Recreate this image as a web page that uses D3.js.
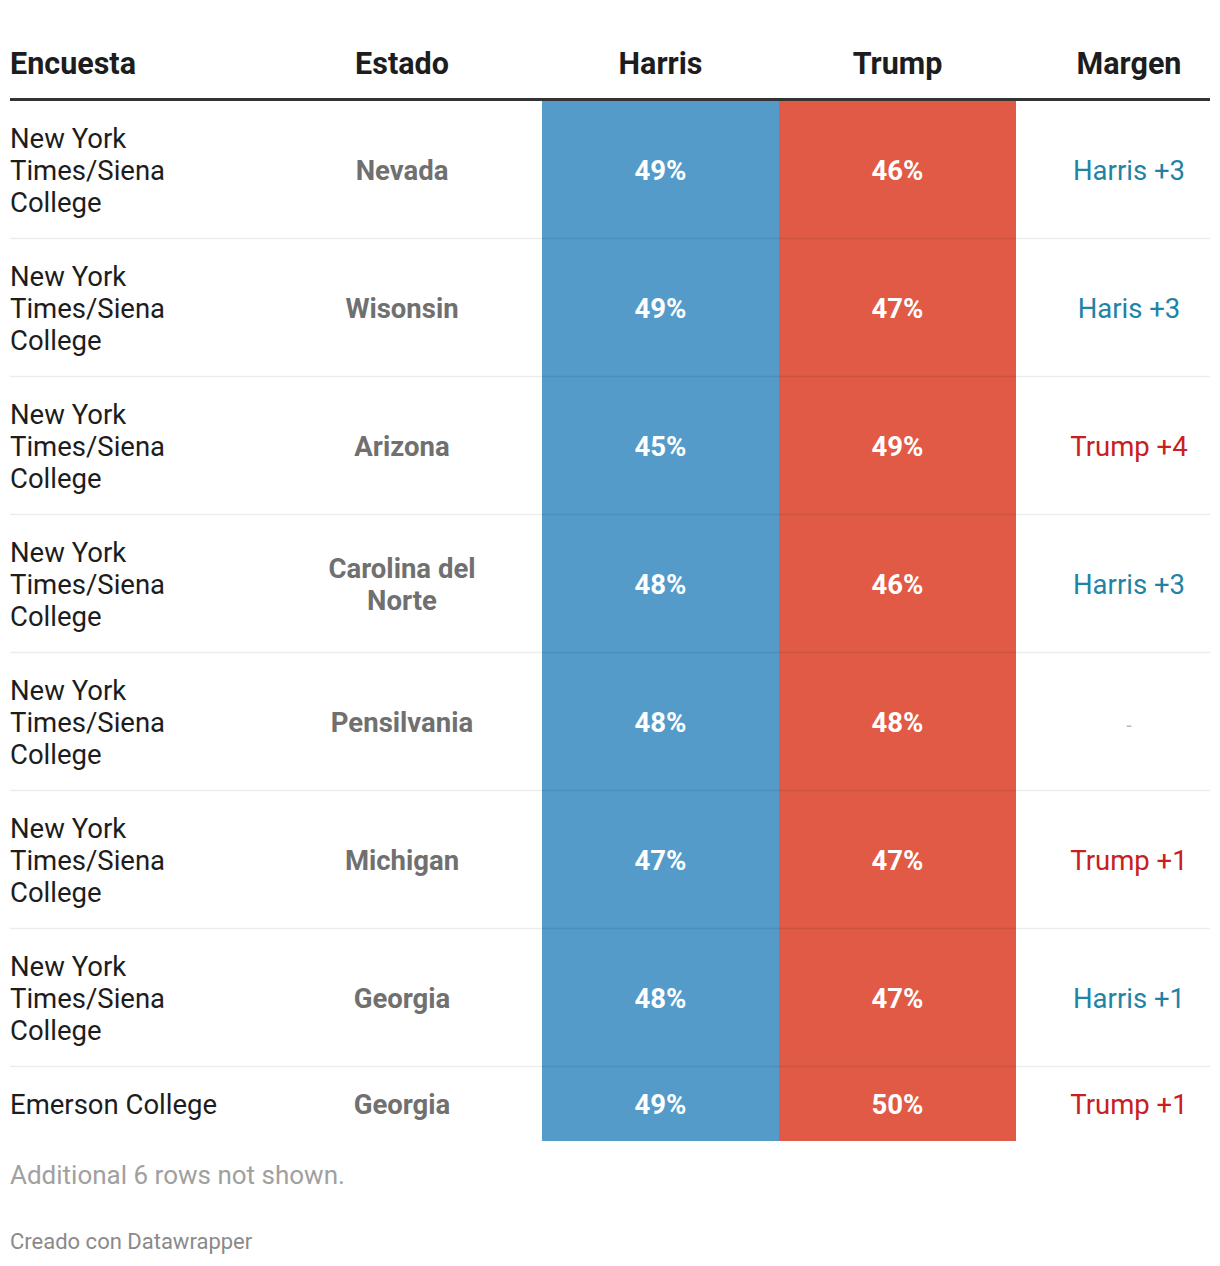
<!DOCTYPE html>
<html>
<head>
<meta charset="utf-8">
<script src="https://cdn.jsdelivr.net/npm/d3@7"></script>
<style>
  html, body { margin: 0; padding: 0; background: #fff; }
  svg { display: block; font-family: Roboto, "Noto Sans", sans-serif; }
</style>
</head>
<body>
<script>
// ---- data ----
const headers = ["Encuesta", "Estado", "Harris", "Trump", "Margen"];
const polls = [
  "New York Times/Siena College", "New York Times/Siena College",
  "New York Times/Siena College", "New York Times/Siena College",
  "New York Times/Siena College", "New York Times/Siena College",
  "New York Times/Siena College", "Emerson College"
];
const states = ["Nevada", "Wisonsin", "Arizona", "Carolina del Norte", "Pensilvania", "Michigan", "Georgia", "Georgia"];
const harris = [49, 49, 45, 48, 48, 47, 48, 49];
const trump = [46, 47, 49, 46, 48, 47, 47, 50];
const margins = ["Harris +3", "Haris +3", "Trump +4", "Harris +3", "-", "Trump +1", "Harris +1", "Trump +1"];
const note = "Additional 6 rows not shown.";
const credit = "Creado con Datawrapper";

// ---- layout ----
const W = 1220, H = 1266;
const left = 10, right = 1210;
const headerRule = 99.5;
const tableTop = 101;
const lineH = 32, padV = 21;
const fontSize = 27.5;

const svg = d3.select("body").append("svg").attr("width", W).attr("height", H);

// column bands
const colEdges = { Encuesta: [10, 262], Estado: [262, 542], Harris: [542, 779], Trump: [779, 1016], Margen: [1048, 1210] };
const colX = d3.scaleOrdinal().domain(headers).range(headers.map(h => h === "Encuesta" ? colEdges[h][0] : (colEdges[h][0] + colEdges[h][1]) / 2));
const colors = d3.scaleOrdinal().domain(["Harris", "Trump"]).range(["#549bc9", "#e15a46"]);
const marginColor = m => m.startsWith("Trump") ? "#c8201e" : (m.startsWith("Har") ? "#1f83a6" : "#bbbbbb");

// text measurement for wrapping
const meas = svg.append("text").attr("font-size", fontSize).attr("visibility", "hidden");
function wrap(str, maxW, weight) {
  meas.attr("font-weight", weight);
  const words = str.split(" ");
  const lines = [];
  let cur = "";
  for (const w of words) {
    const t = cur ? cur + " " + w : w;
    meas.text(t);
    if (meas.node().getComputedTextLength() > maxW && cur) { lines.push(cur); cur = w; }
    else cur = t;
  }
  if (cur) lines.push(cur);
  return lines;
}

const rows = polls.map((p, i) => {
  const pl = wrap(p, 230, 400);
  const sl = wrap(states[i], 195, 700);
  return { poll: pl, state: sl, harris: harris[i], trump: trump[i], margin: margins[i], n: Math.max(pl.length, sl.length) };
});
meas.remove();

let y0 = tableTop;
rows.forEach(r => { r.y = y0; r.h = r.n * lineH + 2 * padV; y0 += r.h; });
const tableBottom = y0;

const yScale = d3.scaleLinear().domain([0, 1]).range([tableTop, tableBottom]);

// colored columns
["Harris", "Trump"].forEach(k => {
  svg.append("rect")
    .attr("x", colEdges[k][0]).attr("width", colEdges[k][1] - colEdges[k][0])
    .attr("y", yScale(0)).attr("height", yScale(1) - yScale(0))
    .attr("fill", colors(k));
});

// header
svg.selectAll("text.hdr").data(headers).join("text")
  .attr("class", "hdr")
  .attr("x", d => colX(d))
  .attr("y", 74)
  .attr("text-anchor", d => d === "Encuesta" ? "start" : "middle")
  .attr("font-size", 30.5).attr("font-weight", 700).attr("fill", "#1d1d1d")
  .text(d => d);

svg.append("line").attr("x1", left).attr("x2", right).attr("y1", headerRule).attr("y2", headerRule)
  .attr("stroke", "#333").attr("stroke-width", 3);

// row separators
svg.selectAll("line.sep").data(rows.slice(1)).join("line")
  .attr("class", "sep")
  .attr("x1", left).attr("x2", right)
  .attr("y1", d => d.y - 0.5).attr("y2", d => d.y - 0.5)
  .attr("stroke", "rgba(0,0,0,0.075)").attr("stroke-width", 1.5);

const g = svg.selectAll("g.row").data(rows).join("g").attr("class", "row");

function multiline(sel, getLines, x, anchor, weight, fill) {
  sel.append("text")
    .attr("x", x).attr("text-anchor", anchor)
    .attr("font-size", fontSize).attr("font-weight", weight).attr("fill", fill)
    .each(function(d) {
      const lines = getLines(d);
      const mid = d.y + d.h / 2;
      const start = mid - (lines.length - 1) * lineH / 2;
      d3.select(this).selectAll("tspan").data(lines).join("tspan")
        .attr("x", x).attr("y", (l, j) => start + j * lineH + 10)
        .text(l => l);
    });
}

multiline(g, d => d.poll, colX("Encuesta"), "start", 400, "#1d1d1d");
multiline(g, d => d.state, colX("Estado"), "middle", 700, "#707070");
multiline(g, d => [d.harris + "%"], colX("Harris"), "middle", 700, "#ffffff");
multiline(g, d => [d.trump + "%"], colX("Trump"), "middle", 700, "#ffffff");

g.append("text")
  .attr("x", colX("Margen")).attr("text-anchor", "middle")
  .attr("y", d => d.y + d.h / 2 + 10)
  .attr("font-size", d => d.margin === "-" ? 20 : fontSize)
  .attr("fill", d => marginColor(d.margin))
  .text(d => d.margin);

// footer
svg.append("text").attr("x", left).attr("y", 1184).attr("font-size", 26).attr("fill", "#a0a0a0").text(note);
svg.append("text").attr("x", left).attr("y", 1249).attr("font-size", 22).attr("fill", "#8a8a8a").text(credit);
</script>
</body>
</html>
